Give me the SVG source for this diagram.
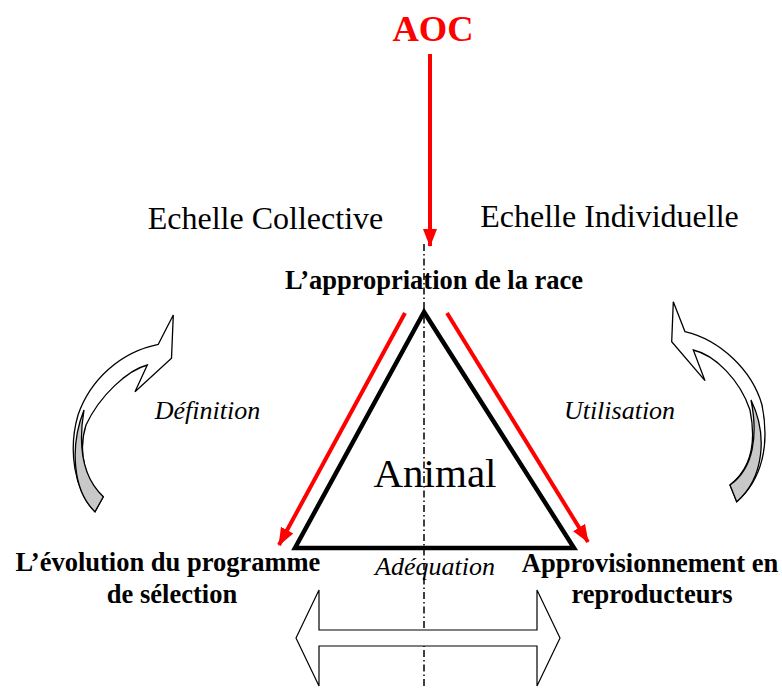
<svg xmlns="http://www.w3.org/2000/svg" width="782" height="689" viewBox="0 0 782 689">
<defs>
<marker id="redhead" markerUnits="userSpaceOnUse" markerWidth="18" markerHeight="16" viewBox="0 0 18 16" refX="17" refY="8" orient="auto">
<path d="M0,1 L18,8 L0,15 Z" fill="#ff0000"/>
</marker>
<style>
.lbl{font-family:"Liberation Serif","Times New Roman",serif;fill:#000}
.b{font-weight:bold;font-size:26.5px}
.it{font-style:italic;font-size:26px}
.scale{font-size:32px}
.red{stroke:#ff0000;stroke-width:4;fill:none}
.curv{fill:#fff;stroke:#000;stroke-width:1.3;stroke-linejoin:miter}
.gray{fill:#c8c8c8;stroke:#000;stroke-width:1.3}
</style>
</defs>
<rect width="782" height="689" fill="#fff"/>

<g id="axis">
<line x1="424" y1="244" x2="424" y2="689" stroke="#000" stroke-width="1.5" stroke-dasharray="7 3 1.5 3"/>
</g>

<g id="triangle">
<polygon points="424,312 295,548 574,548" fill="none" stroke="#000" stroke-width="4.5" stroke-linejoin="miter"/>
<text class="lbl" x="435" y="487" font-size="41" text-anchor="middle">Animal</text>
</g>

<g id="connectors">
<line class="red" x1="430" y1="54" x2="430" y2="246" marker-end="url(#redhead)"/>
<line class="red" x1="405" y1="313" x2="279" y2="545" marker-end="url(#redhead)"/>
<line class="red" x1="447" y1="313" x2="588" y2="542" marker-end="url(#redhead)"/>
</g>

<g id="aoc">
<text class="lbl" x="433" y="41" font-size="36.5" font-weight="bold" style="fill:#ff0000" text-anchor="middle">AOC</text>
</g>

<g id="echelle-collective">
<text class="lbl scale" x="265.5" y="229" text-anchor="middle">Echelle Collective</text>
</g>
<g id="echelle-individuelle">
<text class="lbl scale" x="609.5" y="227" text-anchor="middle">Echelle Individuelle</text>
</g>

<g id="appropriation">
<text class="lbl b" x="434" y="289" text-anchor="middle">L’appropriation de la race</text>
</g>

<g id="definition">
<path class="curv" d="M158.3,344.3 L173.3,315 L171.5,358.3 L135,391.7 L147.3,365 C128,370 100,395 86,425 C78,450 84,482 103.3,496.7 L95,511.7 C74,490 68,450 78,415 C90,380 120,352 158.3,344.3 Z"/>
<path class="gray" d="M84,410 C79,440 80,475 103.3,496.7 L95,511.7 C72,490 70,445 84,410 Z"/>
<text class="lbl it" x="207.5" y="419" text-anchor="middle">Définition</text>
</g>

<g id="utilisation">
<path class="curv" d="M685,331.7 L673.3,301.7 L671.7,341.7 L705,380.7 L693.3,350 C715,355 740,380 750,410 C756,440 752,468 730,485 L736.7,501.7 C762,480 770,445 762,405 C752,370 720,340 685,331.7 Z"/>
<path class="gray" d="M751,400 C758,435 754,468 730,485 L736.7,501.7 C764,478 768,435 751,400 Z"/>
<text class="lbl it" x="619.5" y="419" text-anchor="middle">Utilisation</text>
</g>

<g id="evolution">
<text class="lbl b" x="168" y="571" text-anchor="middle">L’évolution du programme</text>
<text class="lbl b" x="172" y="603" text-anchor="middle">de sélection</text>
</g>

<g id="adequation">
<text class="lbl it" x="435" y="575" text-anchor="middle">Adéquation</text>
<polygon points="296,638 319,590 319,630 537,630 537,590 560,638 537,686 537,646 319,646 319,686" fill="#fff" stroke="#000" stroke-width="1.2"/>
</g>

<g id="approvisionnement">
<text class="lbl b" x="650" y="572" text-anchor="middle">Approvisionnement en</text>
<text class="lbl b" x="652" y="603" text-anchor="middle">reproducteurs</text>
</g>
</svg>
